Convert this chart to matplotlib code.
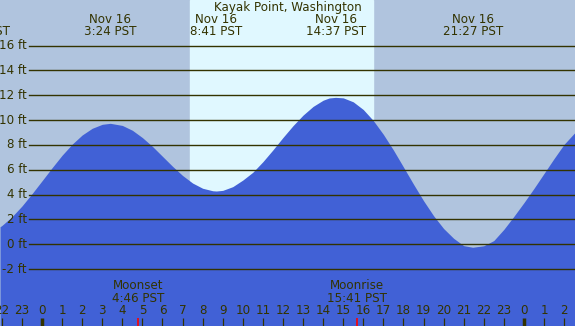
import numpy as np
import matplotlib
matplotlib.use('Agg')
import matplotlib.pyplot as plt
import matplotlib.transforms as mtransforms

# tide height (ft), hours from midnight Nov 16
tide_hours = [-2.09, -2.0, -1.5, -1.0, -0.5, 0.0, 0.5, 1.0, 1.5, 2.0,
              2.5, 3.0, 3.4, 4.0, 4.5, 5.0, 5.5, 6.0, 6.5, 7.0,
              7.5, 8.0, 8.5, 8.68, 9.0, 9.5, 10.0, 10.5, 11.0, 11.5,
              12.0, 12.5, 13.0, 13.5, 14.0, 14.3, 14.62, 15.0, 15.5, 16.0,
              16.5, 17.0, 17.5, 18.0, 18.5, 19.0, 19.5, 20.0, 20.5, 21.0,
              21.45, 22.0, 22.5, 23.0, 23.5, 24.0, 24.5, 25.0, 25.5, 26.0,
              26.54]
tide_ft = [1.41, 1.51, 2.21, 3.08, 4.07, 5.11, 6.16, 7.17, 8.06, 8.80,
           9.34, 9.66, 9.74, 9.57, 9.18, 8.59, 7.88, 7.08, 6.28, 5.54,
           4.93, 4.51, 4.31, 4.29, 4.34, 4.64, 5.17, 5.80, 6.65, 7.60,
           8.60, 9.55, 10.40, 11.10, 11.60, 11.78, 11.83, 11.79, 11.47, 10.85,
           9.96, 8.85, 7.59, 6.22, 4.84, 3.51, 2.30, 1.27, 0.48, -0.11,
           -0.24, -0.12, 0.30, 1.20, 2.25, 3.35, 4.50, 5.70, 6.90, 8.05,
           9.00]

# high / low tide labels
extreme_hours = [-3.1, 3.40, 8.68, 14.62, 21.45]
extreme_labels = ['Nov 15\n20:52 PST', 'Nov 16\n3:24 PST', 'Nov 16\n8:41 PST',
                  'Nov 16\n14:37 PST', 'Nov 16\n21:27 PST']

sunrise = 7.37
sunset = 16.48

moon_hours = [4.77, 15.68]
moon_labels = ['Moonset\n4:46 PST', 'Moonrise\n15:41 PST']

levels = [-2, 0, 2, 4, 6, 8, 10, 12, 14, 16]
hour_ticks = list(range(-2, 27))

night = '#b0c4de'
day = '#e0f8ff'
water = '#4161d6'
ink = '#333300'
fs = 8.6

fig = plt.figure(figsize=(5.75, 3.26), dpi=100)
ax = fig.add_axes([0, 0, 1, 1])
ax.set_xlim(-2.092, 26.544)
ax.set_ylim(-6.58, 19.67)
ax.set_facecolor(night)
ax.axis('off')
fig.patch.set_facecolor(night)

ax.axvspan(sunrise, sunset, color=day, zorder=0)
ax.fill_between(tide_hours, tide_ft, -10, color=water, lw=0, zorder=1)

trans = mtransforms.blended_transform_factory(ax.transAxes, ax.transData)
for lv in levels:
    ax.axhline(lv, xmin=29 / 575, xmax=1, color=ink, lw=1.0, zorder=2)
    ax.text(27 / 575, lv, '%d ft' % lv, transform=trans, ha='right', va='center',
            fontsize=fs, color=ink, zorder=3)

ax.text(0.5, 1 - 8 / 326, 'Kayak Point, Washington', transform=ax.transAxes,
        ha='center', va='center', fontsize=fs, color=ink)

xtrans = ax.get_xaxis_transform()
for h, lab in zip(extreme_hours, extreme_labels):
    ax.text(h, 1 - 25.5 / 326, lab, transform=xtrans, ha='center', va='center',
            fontsize=fs, color=ink, linespacing=0.95)

for h, lab in zip(moon_hours, moon_labels):
    ax.text(h, 1 - 292 / 326, lab, transform=xtrans, ha='center', va='center',
            fontsize=fs, color=ink, linespacing=0.92)
    ax.vlines(h, 0, 8 / 326, transform=xtrans, color='red', lw=1.2, zorder=4)

for h in hour_ticks:
    ax.text(h, 1 - 310.5 / 326, str(h % 24), transform=xtrans, ha='center', va='center',
            fontsize=fs, color=ink)
    lw = 2.5 if h % 24 == 0 else 0.9
    ax.vlines(h, 0, 8 / 326, transform=xtrans, color=ink, lw=lw, zorder=4)

fig.savefig('out.png', dpi=100, facecolor=fig.get_facecolor())
